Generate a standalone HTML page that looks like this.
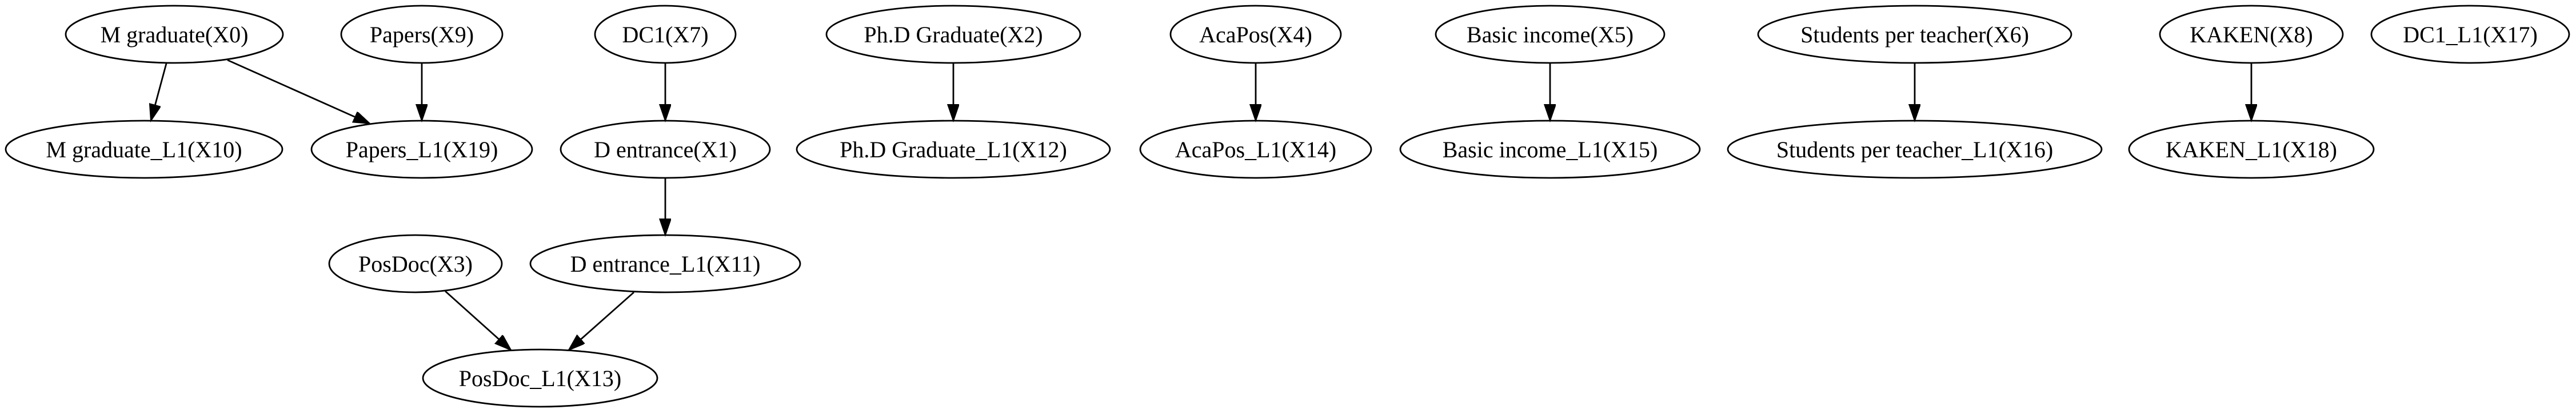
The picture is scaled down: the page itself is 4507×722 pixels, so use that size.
<!DOCTYPE html>
<html><head><meta charset="utf-8"><style>html,body{margin:0;padding:0;background:#fff}svg{display:block}</style></head>
<body>
<svg width="4507" height="722" viewBox="0 0 4507 722" xmlns="http://www.w3.org/2000/svg">
<defs>
<marker id="a" markerUnits="userSpaceOnUse" markerWidth="32" markerHeight="24" refX="29" refY="10" orient="auto">
<path d="M0,0 L29,10 L0,20 Z" fill="#000" stroke="#000" stroke-width="2"/>
</marker>
</defs>
<g fill="none" stroke="#000" stroke-width="2.8">
<ellipse cx="305" cy="60" rx="190" ry="50"/>
<ellipse cx="738" cy="60" rx="141" ry="50"/>
<ellipse cx="1164" cy="60" rx="123" ry="50"/>
<ellipse cx="1668" cy="60" rx="222" ry="50"/>
<ellipse cx="2197" cy="60" rx="149" ry="50"/>
<ellipse cx="2712" cy="60" rx="200" ry="50"/>
<ellipse cx="3350" cy="60" rx="274" ry="50"/>
<ellipse cx="3939" cy="60" rx="160" ry="50"/>
<ellipse cx="4322" cy="60" rx="173" ry="50"/>
<ellipse cx="252" cy="261" rx="242" ry="50"/>
<ellipse cx="738" cy="261" rx="193" ry="50"/>
<ellipse cx="1164" cy="261" rx="183" ry="50"/>
<ellipse cx="1668" cy="261" rx="274" ry="50"/>
<ellipse cx="2197" cy="261" rx="202" ry="50"/>
<ellipse cx="2712" cy="261" rx="262" ry="50"/>
<ellipse cx="3350" cy="261" rx="327" ry="50"/>
<ellipse cx="3939" cy="261" rx="214" ry="50"/>
<ellipse cx="727" cy="461" rx="151" ry="50"/>
<ellipse cx="1164" cy="461" rx="236" ry="50"/>
<ellipse cx="945" cy="661" rx="205" ry="50"/>
</g>
<g stroke="#000" stroke-width="2.8" marker-end="url(#a)">
<line x1="291" y1="111" x2="264" y2="211"/>
<line x1="398" y1="105" x2="647" y2="216"/>
<line x1="738" y1="111" x2="738" y2="211"/>
<line x1="1164" y1="111" x2="1164" y2="211"/>
<line x1="1164" y1="311" x2="1164" y2="411"/>
<line x1="1668" y1="111" x2="1668" y2="211"/>
<line x1="2197" y1="111" x2="2197" y2="211"/>
<line x1="2712" y1="111" x2="2712" y2="211"/>
<line x1="3350" y1="111" x2="3350" y2="211"/>
<line x1="3939" y1="111" x2="3939" y2="211"/>
<line x1="779" y1="509" x2="894" y2="612"/>
<line x1="1109" y1="511" x2="995" y2="612"/>
</g>
<g font-family="'Liberation Serif', serif" font-size="40" text-anchor="middle" fill="#000">
<text x="305" y="74">M graduate(X0)</text>
<text x="738" y="74">Papers(X9)</text>
<text x="1164" y="74">DC1(X7)</text>
<text x="1668" y="74">Ph.D Graduate(X2)</text>
<text x="2197" y="74">AcaPos(X4)</text>
<text x="2712" y="74">Basic income(X5)</text>
<text x="3350" y="74">Students per teacher(X6)</text>
<text x="3939" y="74">KAKEN(X8)</text>
<text x="4322" y="74">DC1_L1(X17)</text>
<text x="252" y="275">M graduate_L1(X10)</text>
<text x="738" y="275">Papers_L1(X19)</text>
<text x="1164" y="275">D entrance(X1)</text>
<text x="1668" y="275">Ph.D Graduate_L1(X12)</text>
<text x="2197" y="275">AcaPos_L1(X14)</text>
<text x="2712" y="275">Basic income_L1(X15)</text>
<text x="3350" y="275">Students per teacher_L1(X16)</text>
<text x="3939" y="275">KAKEN_L1(X18)</text>
<text x="727" y="475">PosDoc(X3)</text>
<text x="1164" y="475">D entrance_L1(X11)</text>
<text x="945" y="675">PosDoc_L1(X13)</text>
</g>
</svg>
</body></html>
